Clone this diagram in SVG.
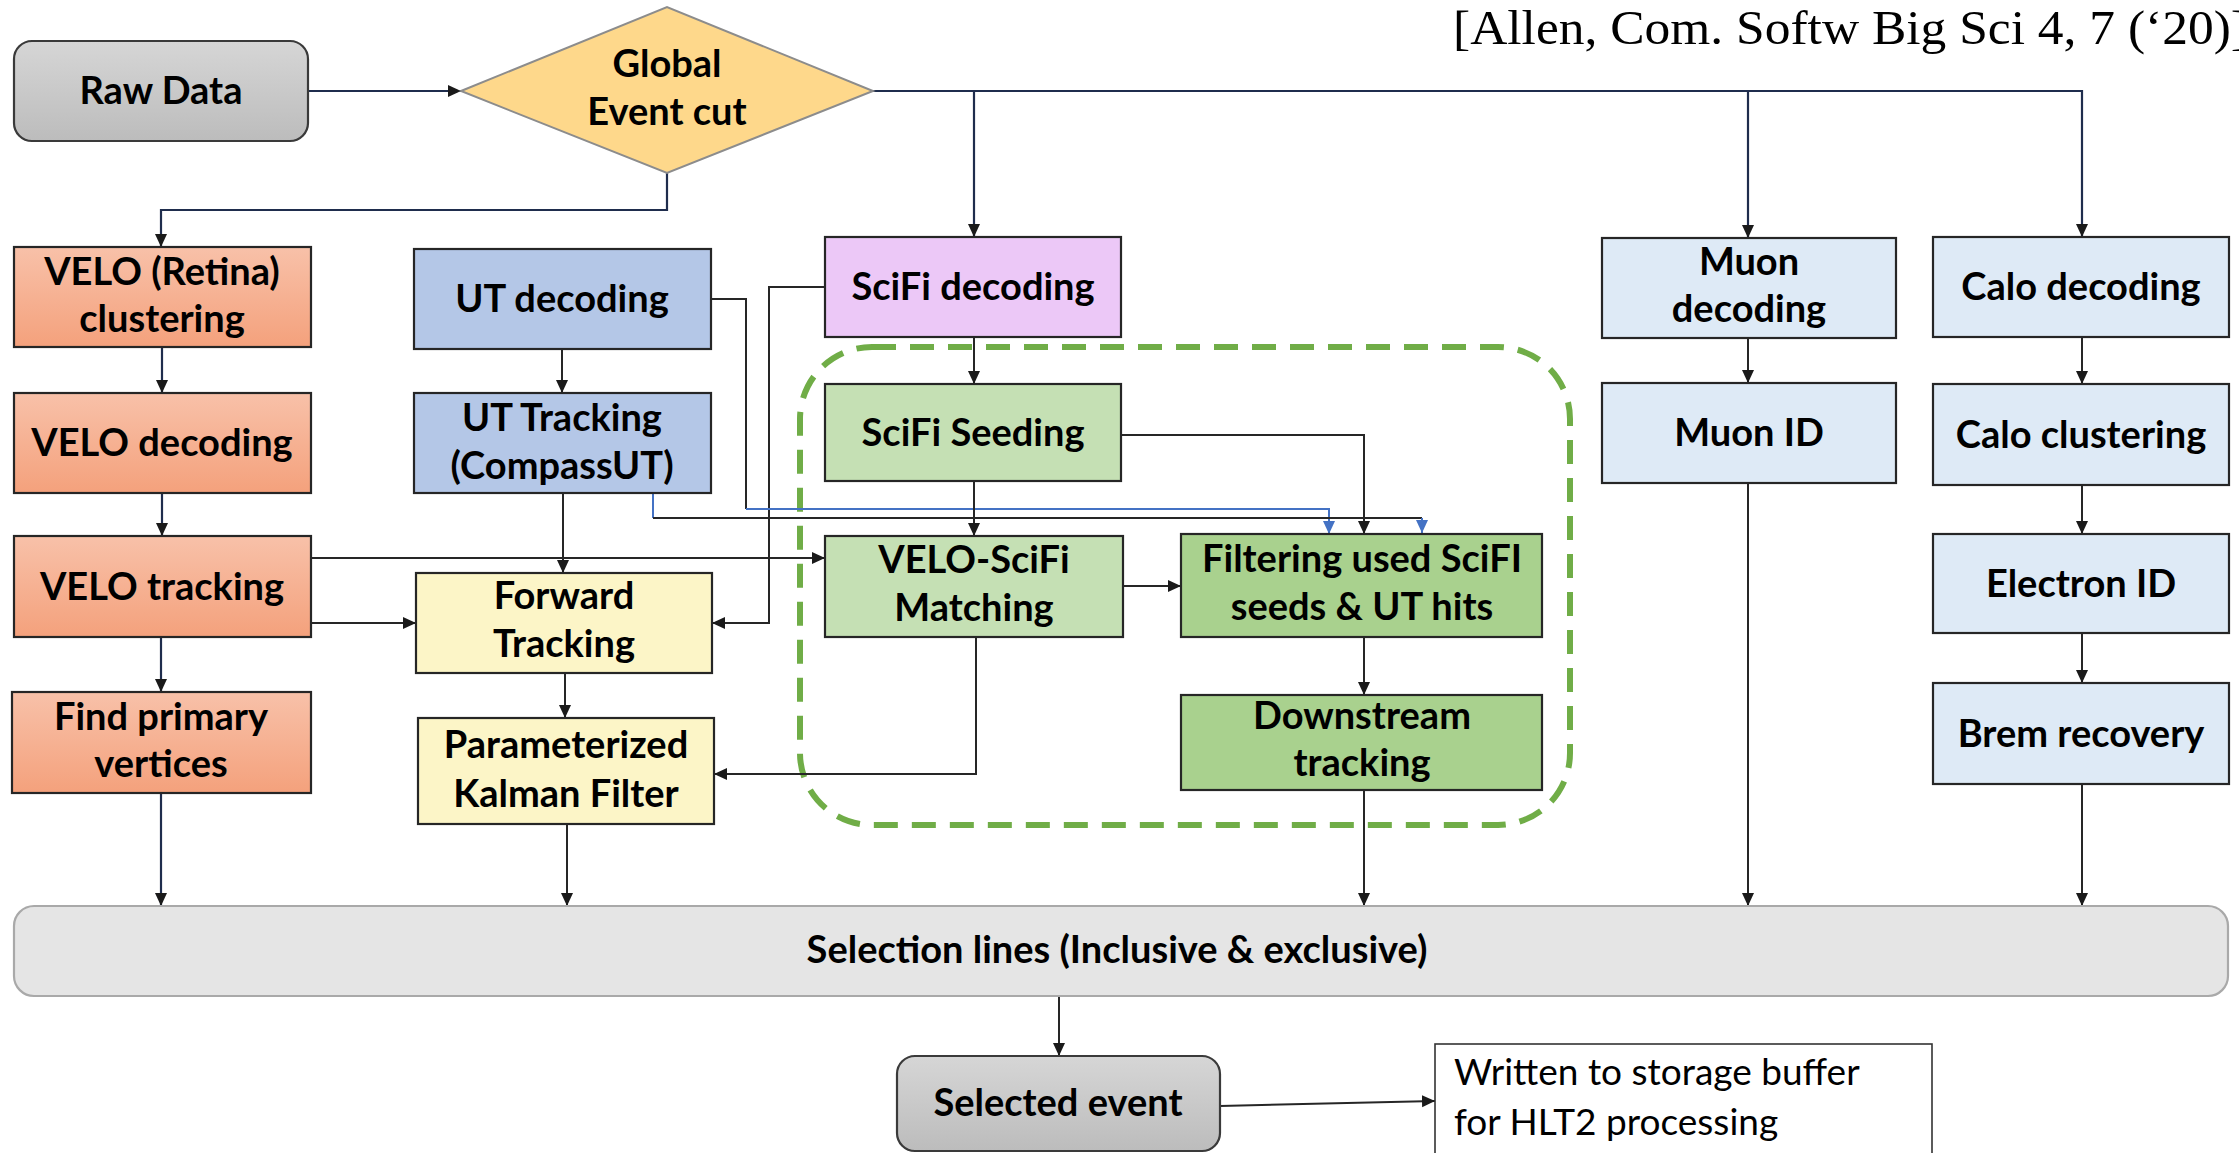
<svg xmlns="http://www.w3.org/2000/svg" width="2239" height="1153" viewBox="0 0 2239 1153">
  <defs>
    <linearGradient id="gVelo" x1="0" y1="0" x2="0" y2="1">
      <stop offset="0" stop-color="#f8c1a9"/>
      <stop offset="1" stop-color="#f4a17c"/>
    </linearGradient>
    <linearGradient id="gGray" x1="0" y1="0" x2="0" y2="1">
      <stop offset="0" stop-color="#d6d6d6"/>
      <stop offset="1" stop-color="#bcbcbc"/>
    </linearGradient>
    <marker id="arr" markerUnits="userSpaceOnUse" markerWidth="14" markerHeight="13" refX="13" refY="6.5" orient="auto">
      <path d="M0,0.5 L13,6.5 L0,12.5 z" fill="#1a1a1a"/>
    </marker>
    <marker id="arrBlue" markerUnits="userSpaceOnUse" markerWidth="14" markerHeight="13" refX="13" refY="6.5" orient="auto">
      <path d="M0,0.5 L13,6.5 L0,12.5 z" fill="#4472c4"/>
    </marker>
    <style>
      .box { stroke: #262626; stroke-width: 2.2; }
      .velo { fill: url(#gVelo); }
      .ut { fill: #b4c7e7; }
      .yel { fill: #fcf5c7; }
      .sfd { fill: #ecc8f7; }
      .lg { fill: #c5e0b4; }
      .dg { fill: #a9d18e; }
      .pb { fill: #deeaf6; }
      .term { fill: url(#gGray); stroke: #3a3a3a; stroke-width: 2.2; }
      .lbl { font-family: Lato, "Liberation Sans", sans-serif; font-weight: 700; font-size: 38px; fill: #000; text-anchor: middle; }
      .note { font-family: Lato, "Liberation Sans", sans-serif; font-weight: 400; font-size: 37px; fill: #000; }
      .cite { font-family: "Liberation Serif", "DejaVu Serif", serif; font-size: 48px; fill: #000; }
      .ln { fill: none; stroke: #262626; stroke-width: 2; }
      .nv { fill: none; stroke: #1f2d4d; stroke-width: 2.2; }
      .bl { fill: none; stroke: #4472c4; stroke-width: 2; }
    </style>
  </defs>

  <rect width="2239" height="1153" fill="#ffffff"/>

  <!-- reference -->
  <text class="cite" x="1453" y="44" textLength="795" lengthAdjust="spacingAndGlyphs">[Allen, Com. Softw Big Sci 4, 7 (‘20)]</text>

  <!-- dashed grouping around the SciFi / downstream stage -->
  <rect id="downstream-group" x="800" y="347" width="770" height="478" rx="72" fill="none" stroke="#70ad47" stroke-width="6" stroke-dasharray="24 14"/>

  <!-- connectors -->
  <g id="connectors">
    <path class="nv" d="M308,91 H461" marker-end="url(#arr)"/>
    <path class="nv" d="M873,91 H2082 V237" marker-end="url(#arr)"/>
    <path class="nv" d="M974,91 V237" marker-end="url(#arr)"/>
    <path class="nv" d="M1748,91 V238" marker-end="url(#arr)"/>
    <path class="nv" d="M667,173 V210 H161 V247" marker-end="url(#arr)"/>

    <path class="nv" d="M162,347 V393" marker-end="url(#arr)"/>
    <path class="nv" d="M162,493 V536" marker-end="url(#arr)"/>
    <path class="nv" d="M161,637 V692" marker-end="url(#arr)"/>
    <path class="nv" d="M161,793 V906" marker-end="url(#arr)"/>

    <path class="ln" d="M562,349 V393" marker-end="url(#arr)"/>
    <path class="ln" d="M563,493 V573" marker-end="url(#arr)"/>
    <path class="ln" d="M565,673 V718" marker-end="url(#arr)"/>
    <path class="ln" d="M567,824 V906" marker-end="url(#arr)"/>

    <path class="ln" d="M311,623 H416" marker-end="url(#arr)"/>
    <path class="ln" d="M311,558 H825" marker-end="url(#arr)"/>
    <path class="ln" d="M825,287 H769 V623 H712" marker-end="url(#arr)"/>

    <path class="ln" d="M711,299 H746 V509"/>
    <path class="bl" d="M746,509 H1329 V534" marker-end="url(#arrBlue)"/>
    <path class="bl" d="M653,493 V518"/>
    <path class="ln" d="M653,518 H1422"/>
    <path class="bl" d="M1422,518 V533" marker-end="url(#arrBlue)"/>

    <path class="ln" d="M974,337 V384" marker-end="url(#arr)"/>
    <path class="ln" d="M974,481 V536" marker-end="url(#arr)"/>
    <path class="ln" d="M1121,435 H1364 V534" marker-end="url(#arr)"/>
    <path class="ln" d="M1123,586 H1181" stroke-width="3.4" marker-end="url(#arr)"/>
    <path class="ln" d="M976,637 V774 H714" marker-end="url(#arr)"/>
    <path class="ln" d="M1364,637 V695" marker-end="url(#arr)"/>
    <path class="ln" d="M1364,790 V906" marker-end="url(#arr)"/>

    <path class="ln" d="M1748,338 V383" marker-end="url(#arr)"/>
    <path class="ln" d="M1748,483 V906" marker-end="url(#arr)"/>
    <path class="ln" d="M2082,337 V384" marker-end="url(#arr)"/>
    <path class="ln" d="M2082,485 V534" marker-end="url(#arr)"/>
    <path class="ln" d="M2082,633 V683" marker-end="url(#arr)"/>
    <path class="ln" d="M2082,784 V906" marker-end="url(#arr)"/>

    <path class="ln" d="M1059,996 V1056" marker-end="url(#arr)"/>
    <path class="ln" d="M1220,1106 L1435,1101" marker-end="url(#arr)"/>
  </g>

  <!-- nodes -->
  <g id="raw-data">
    <rect class="term" x="14" y="41" width="294" height="100" rx="18"/>
    <text class="lbl" x="161" y="104">Raw Data</text>
  </g>

  <g id="global-event-cut">
    <polygon points="461,91 667,7 873,91 667,173" fill="#fed88b" stroke="#8c8c8c" stroke-width="2"/>
    <text class="lbl" x="667" y="77">Global</text>
    <text class="lbl" x="667" y="125">Event cut</text>
  </g>

  <g id="velo-clustering">
    <rect class="box velo" x="14" y="247" width="297" height="100"/>
    <text class="lbl" x="162" y="285">VELO (Retina)</text>
    <text class="lbl" x="162" y="332">clustering</text>
  </g>
  <g id="velo-decoding">
    <rect class="box velo" x="14" y="393" width="297" height="100"/>
    <text class="lbl" x="162" y="456">VELO decoding</text>
  </g>
  <g id="velo-tracking">
    <rect class="box velo" x="14" y="536" width="297" height="101"/>
    <text class="lbl" x="162" y="600">VELO tracking</text>
  </g>
  <g id="find-pv">
    <rect class="box velo" x="12" y="692" width="299" height="101"/>
    <text class="lbl" x="161" y="730">Find primary</text>
    <text class="lbl" x="161" y="777">vertices</text>
  </g>

  <g id="ut-decoding">
    <rect class="box ut" x="414" y="249" width="297" height="100"/>
    <text class="lbl" x="562" y="312">UT decoding</text>
  </g>
  <g id="ut-tracking">
    <rect class="box ut" x="414" y="393" width="297" height="100"/>
    <text class="lbl" x="562" y="431">UT Tracking</text>
    <text class="lbl" x="562" y="479">(CompassUT)</text>
  </g>
  <g id="forward-tracking">
    <rect class="box yel" x="416" y="573" width="296" height="100"/>
    <text class="lbl" x="564" y="609">Forward</text>
    <text class="lbl" x="564" y="657">Tracking</text>
  </g>
  <g id="kalman-filter">
    <rect class="box yel" x="418" y="718" width="296" height="106"/>
    <text class="lbl" x="566" y="758">Parameterized</text>
    <text class="lbl" x="566" y="807">Kalman Filter</text>
  </g>

  <g id="scifi-decoding">
    <rect class="box sfd" x="825" y="237" width="296" height="100"/>
    <text class="lbl" x="973" y="300">SciFi decoding</text>
  </g>
  <g id="scifi-seeding">
    <rect class="box lg" x="825" y="384" width="296" height="97"/>
    <text class="lbl" x="973" y="446">SciFi Seeding</text>
  </g>
  <g id="velo-scifi-matching">
    <rect class="box lg" x="825" y="536" width="298" height="101"/>
    <text class="lbl" x="974" y="573">VELO-SciFi</text>
    <text class="lbl" x="974" y="621">Matching</text>
  </g>
  <g id="filtering">
    <rect class="box dg" x="1181" y="534" width="361" height="103"/>
    <text class="lbl" x="1362" y="572">Filtering used SciFI</text>
    <text class="lbl" x="1362" y="620">seeds &amp; UT hits</text>
  </g>
  <g id="downstream-tracking">
    <rect class="box dg" x="1181" y="695" width="361" height="95"/>
    <text class="lbl" x="1362" y="729">Downstream</text>
    <text class="lbl" x="1362" y="776">tracking</text>
  </g>

  <g id="muon-decoding">
    <rect class="box pb" x="1602" y="238" width="294" height="100"/>
    <text class="lbl" x="1749" y="275">Muon</text>
    <text class="lbl" x="1749" y="322">decoding</text>
  </g>
  <g id="muon-id">
    <rect class="box pb" x="1602" y="383" width="294" height="100"/>
    <text class="lbl" x="1749" y="446">Muon ID</text>
  </g>

  <g id="calo-decoding">
    <rect class="box pb" x="1933" y="237" width="296" height="100"/>
    <text class="lbl" x="2081" y="300">Calo decoding</text>
  </g>
  <g id="calo-clustering">
    <rect class="box pb" x="1933" y="384" width="296" height="101"/>
    <text class="lbl" x="2081" y="448">Calo clustering</text>
  </g>
  <g id="electron-id">
    <rect class="box pb" x="1933" y="534" width="296" height="99"/>
    <text class="lbl" x="2081" y="597">Electron ID</text>
  </g>
  <g id="brem-recovery">
    <rect class="box pb" x="1933" y="683" width="296" height="101"/>
    <text class="lbl" x="2081" y="747">Brem recovery</text>
  </g>

  <g id="selection-lines">
    <rect x="14" y="906" width="2214" height="90" rx="20" fill="#e5e5e5" stroke="#a9a9a9" stroke-width="2.2"/>
    <text class="lbl" x="1117" y="963">Selection lines (Inclusive &amp; exclusive)</text>
  </g>

  <g id="selected-event">
    <rect class="term" x="897" y="1056" width="323" height="95" rx="18"/>
    <text class="lbl" x="1058" y="1116">Selected event</text>
  </g>

  <g id="storage-note">
    <rect x="1435" y="1044" width="497" height="130" fill="#ffffff" stroke="#333333" stroke-width="1.6"/>
    <text class="note" x="1454" y="1085">Written to storage buffer</text>
    <text class="note" x="1454" y="1135">for HLT2 processing</text>
  </g>
</svg>
